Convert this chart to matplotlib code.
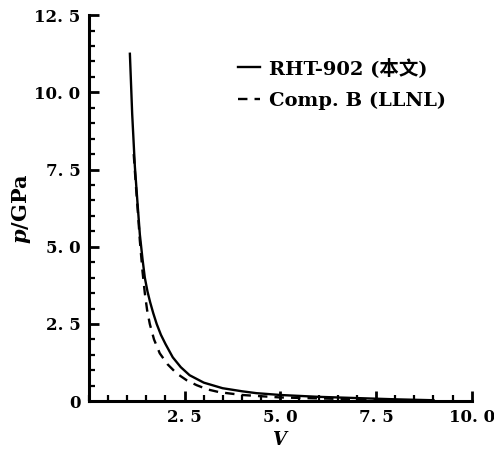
import matplotlib.pyplot as plt
from matplotlib.ticker import MultipleLocator

# RHT-902 (solid) isentrope
v_rht = [1.07, 1.13, 1.2, 1.27, 1.33, 1.4, 1.46, 1.53, 1.6, 1.68, 1.77, 1.88, 2.0, 2.19,
         2.4, 2.63, 3.0, 3.49, 4.0, 4.37, 5.0, 6.0, 7.0, 8.0, 9.0]
p_rht = [11.25, 9.3, 7.6, 6.4, 5.4, 4.6, 4.0, 3.55, 3.2, 2.85, 2.5, 2.15, 1.85, 1.42,
         1.1, 0.84, 0.6, 0.42, 0.32, 0.26, 0.2, 0.14, 0.1, 0.06, 0.03]

# Comp. B (LLNL), dashed
v_compb = [1.17, 1.22, 1.28, 1.33, 1.4, 1.46, 1.52, 1.59, 1.7, 1.85, 2.05, 2.29, 2.55,
           2.81, 3.1, 3.41, 4.0, 5.0, 6.0, 7.0, 8.0]
p_compb = [8.0, 7.1, 6.1, 5.2, 4.2, 3.5, 2.95, 2.5, 2.0, 1.55, 1.2, 0.9, 0.68,
           0.52, 0.38, 0.29, 0.2, 0.12, 0.09, 0.06, 0.04]

x_ticks = [2.5, 5.0, 7.5, 10.0]
x_labels = ['2. 5', '5. 0', '7. 5', '10. 0']
y_ticks = [0, 2.5, 5.0, 7.5, 10.0, 12.5]
y_labels = ['0', '2. 5', '5. 0', '7. 5', '10. 0', '12. 5']

serif = ['DejaVu Serif', 'Noto Sans CJK SC']
plt.rcParams['font.family'] = serif
plt.rcParams['font.weight'] = 'bold'
plt.rcParams['mathtext.fontset'] = 'custom'
plt.rcParams['mathtext.it'] = 'DejaVu Serif:italic:bold'
plt.rcParams['mathtext.rm'] = 'DejaVu Serif:bold'

fig = plt.figure(figsize=(4.94, 4.59), dpi=100)
ax = fig.add_axes([0.180, 0.126, 0.775, 0.841])

ax.plot(v_rht, p_rht, color='black', lw=1.7, label='RHT-902 (本文)')
ax.plot(v_compb, p_compb, color='black', lw=1.7, ls=(0, (4, 3)), label='Comp. B (LLNL)')

ax.set_xlim(0, 10)
ax.set_ylim(0, 12.5)
ax.spines['top'].set_visible(False)
ax.spines['right'].set_visible(False)
for s in ['left', 'bottom']:
    ax.spines[s].set_linewidth(2.2)

ax.set_xticks(x_ticks)
ax.set_xticklabels(x_labels)
ax.set_yticks(y_ticks)
ax.set_yticklabels(y_labels)
ax.xaxis.set_minor_locator(MultipleLocator(0.5))
ax.yaxis.set_minor_locator(MultipleLocator(0.5))
ax.tick_params(which='major', direction='in', length=7, width=2, labelsize=12, pad=6)
ax.tick_params(which='minor', direction='in', length=4, width=1.6)
for lab in ax.get_xticklabels() + ax.get_yticklabels():
    lab.set_fontweight('bold')

ax.set_xlabel(r'$V$', fontsize=13, labelpad=3)
ax.set_ylabel(r'$p$/GPa', fontsize=15, fontweight='bold', labelpad=1)

leg = ax.legend(loc='upper left', bbox_to_anchor=(0.365, 0.915), frameon=False,
                borderpad=0, handlelength=1.1, handletextpad=0.5, labelspacing=0.72,
                prop={'family': serif, 'weight': 'bold', 'size': 14})

fig.savefig('out.png', dpi=100)
